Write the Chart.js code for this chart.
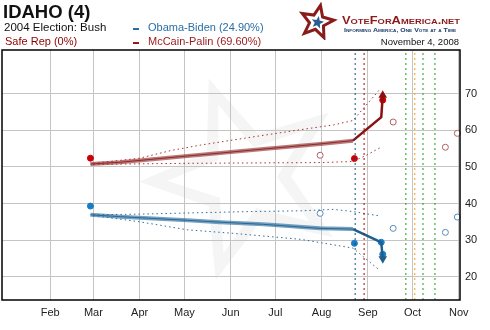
<!DOCTYPE html>
<html>
<head>
<meta charset="utf-8">
<script src="https://cdn.jsdelivr.net/npm/chart.js@4"></script>
<style>
  body { margin: 0; background: #fff; }
  #wrap { position: relative; width: 490px; height: 330px; font-family: "Liberation Sans", Arial, sans-serif; }
  #c { position: absolute; left: 0; top: 0; }
  .t { position: absolute; white-space: nowrap; line-height: 1; }
  .fit { transform-origin: 0 0; }
</style>
</head>
<body>
<div id="wrap">
  <canvas id="c" width="490" height="330"></canvas>
  <div class="t" style="left:3px;top:3px;font-size:18.5px;font-weight:bold;color:#111">IDAHO (4)</div>
  <div class="t" style="left:4px;top:22px;font-size:11.5px;color:#111">2004 Election: Bush</div>
  <div class="t" style="left:5px;top:36px;font-size:11px;color:#8b0000">Safe Rep (0%)</div>
  <div style="position:absolute;left:133px;top:28px;width:6px;height:2px;background:#2a6ea6"></div>
  <div class="t" style="left:148px;top:22px;font-size:11px;color:#2a6ea6">Obama-Biden (24.90%)</div>
  <div style="position:absolute;left:133px;top:42px;width:6px;height:2px;background:#9a1a1a"></div>
  <div class="t" style="left:148px;top:36px;font-size:11px;color:#9a1a1a">McCain-Palin (69.60%)</div>
  <svg id="logo" style="position:absolute;left:298px;top:2px" width="40" height="38"></svg>
  <div class="t fit" id="brand" data-w="118" style="left:342px;top:15px;font-size:11px;font-weight:bold;font-variant:small-caps;color:#8b1a1a">VoteForAmerica.net</div>
  <div class="t fit" id="motto" data-w="112" style="left:344px;top:27px;font-size:6px;font-weight:bold;font-variant:small-caps;color:#1d3b6e">Informing America, One Vote at a Time</div>
  <div class="t" id="date" style="right:31px;top:37px;font-size:9.5px;color:#111">November 4, 2008</div>
</div>
<script>
// days counted from Jan 1 2008 (= 0)
const monthStarts = [31, 60, 91, 121, 152, 182, 213, 244, 274, 305];
const monthLabels = ['Feb', 'Mar', 'Apr', 'May', 'Jun', 'Jul', 'Aug', 'Sep', 'Oct', 'Nov'];
const yTicks = [20, 30, 40, 50, 60, 70];

// smoothed trend
const trendDays = [58, 78, 123, 145, 174, 212, 234];
const mccainTrend = [50.8, 51.3, 53.0, 53.8, 54.9, 56.3, 57.2];
const obamaTrend = [36.9, 36.4, 35.4, 34.9, 34.3, 33.2, 33.0];

// latest movement (ends in arrow)
const recentDays = [234, 253, 254];
const mccainRecent = [57.2, 63.6, 69.6];
const obamaRecent = [33.0, 29.4, 24.9];

// dotted ranges
const mccainHighDays = [60, 91, 112, 132, 165, 199, 221, 234, 252];
const mccainHigh = [51.0, 52.4, 54.5, 56.0, 58.1, 60.2, 61.5, 62.7, 71.2];
const mccainLowDays = [60, 123, 212, 234, 243, 252];
const mccainLow = [50.7, 51.0, 51.2, 51.5, 53.2, 55.2];
const obamaHighDays = [60, 91, 165, 199, 221, 234, 252];
const obamaHigh = [36.9, 37.1, 37.8, 38.0, 38.4, 37.8, 36.6];
const obamaLowDays = [60, 91, 123, 152, 199, 234, 252];
const obamaLow = [36.7, 35.0, 32.8, 31.9, 30.2, 27.8, 21.7];

// polls
const mccainPollDays = [58, 235, 254];
const mccainPolls = [52.4, 52.3, 68.3];
const obamaPollDays = [58, 235, 253, 254];
const obamaPolls = [39.3, 29.1, 29.4, 26.1];
const otherDays = [212, 261, 296, 304];
const mccainOther = [53.2, 62.3, 55.4, 59.2];
const obamaOther = [37.3, 33.2, 32.1, 36.3];

// events: VP picks, debates
const eventDays = [235.5, 241.5, 269.5, 275.5, 281, 289];
const eventColors = ['#1a4a7a', '#b00000', '#1a9a1a', '#f0a000', '#1a9a1a', '#1a9a1a'];

const Y_MIN = 13.6, Y_MAX = 82;

const pts = (xs, ys) => xs.map((x, i) => ({ x: x, y: ys[i] }));

const lineDs = (data, color, width, dash) => ({
  type: 'line', data: data, borderColor: color, borderWidth: width,
  borderDash: dash || [], pointRadius: 0, fill: false, tension: 0
});

const datasets = [];
eventDays.forEach((d, i) => {
  datasets.push(lineDs([{ x: d, y: Y_MIN }, { x: d, y: Y_MAX }], eventColors[i], 1, [2, 3]));
});
datasets.push(lineDs(pts(mccainHighDays, mccainHigh), '#a83232', 1, [1.5, 3]));
datasets.push(lineDs(pts(mccainLowDays, mccainLow), '#a83232', 1, [1.5, 3]));
datasets.push(lineDs(pts(obamaHighDays, obamaHigh), '#2f6d9e', 1, [1.5, 3]));
datasets.push(lineDs(pts(obamaLowDays, obamaLow), '#2f6d9e', 1, [1.5, 3]));
datasets.push(lineDs(pts(trendDays, mccainTrend), 'rgba(150,50,50,0.65)', 4));
datasets.push(lineDs(pts(trendDays, mccainTrend), '#7f1818', 1));
datasets.push(lineDs(pts(trendDays, obamaTrend), 'rgba(45,110,160,0.65)', 4));
datasets.push(lineDs(pts(trendDays, obamaTrend), '#1d5a88', 1));

const arrowDs = (xs, ys, color, rot) => {
  const ds = lineDs(pts(xs, ys), color, 2.5);
  ds.pointRadius = xs.map((x, i) => i === xs.length - 1 ? 2.5 : 0);
  ds.pointStyle = 'triangle';
  ds.pointRotation = rot;
  ds.pointBackgroundColor = color;
  ds.pointBorderColor = color;
  return ds;
};
datasets.push(arrowDs(recentDays, mccainRecent, '#8b1010', 0));
datasets.push(arrowDs(recentDays, obamaRecent, '#1f5f8f', 180));

const dotDs = (xs, ys, color, open) => ({
  type: 'scatter', data: pts(xs, ys), clip: false,
  pointRadius: 3,
  pointBorderWidth: 1,
  pointBackgroundColor: open ? '#fff' : color,
  pointBorderColor: color
});
datasets.push(dotDs(mccainPollDays, mccainPolls, '#cc0000', false));
datasets.push(dotDs(obamaPollDays, obamaPolls, '#1a7cc4', false));
datasets.push(dotDs(otherDays, mccainOther, '#b06060', true));
datasets.push(dotDs(otherDays, obamaOther, '#5a8ab8', true));

const starPoints = (cx, cy, R, r, rotDeg) => {
  const out = [];
  for (let i = 0; i < 10; i++) {
    const a = (rotDeg + i * 36) * Math.PI / 180;
    const rad = i % 2 === 0 ? R : r;
    out.push([cx + rad * Math.sin(a), cy - rad * Math.cos(a)]);
  }
  return out;
};

// faint background star
const watermark = {
  id: 'watermark',
  beforeDraw(chart) {
    const ctx = chart.ctx;
    const draw = (p, color) => {
      ctx.beginPath();
      p.forEach((q, i) => i ? ctx.lineTo(q[0], q[1]) : ctx.moveTo(q[0], q[1]));
      ctx.closePath();
      ctx.fillStyle = color;
      ctx.fill();
    };
    ctx.save();
    draw(starPoints(245, 178, 106, 46, -20), '#f5f5f5');
    draw(starPoints(245, 178, 78, 32, -20), '#ffffff');
    ctx.restore();
  }
};

const frame = {
  id: 'frame',
  afterDraw(chart) {
    const a = chart.chartArea, ctx = chart.ctx;
    ctx.save();
    ctx.strokeStyle = '#000';
    ctx.lineWidth = 1.5;
    ctx.strokeRect(a.left, a.top, a.right - a.left, a.bottom - a.top);
    ctx.restore();
  }
};

new Chart(document.getElementById('c'), {
  type: 'scatter',
  data: { datasets: datasets },
  plugins: [watermark, frame],
  options: {
    responsive: false,
    animation: false,
    layout: { autoPadding: false, padding: { left: 2, top: 50, right: 0, bottom: 0 } },
    plugins: { legend: { display: false }, tooltip: { enabled: false } },
    scales: {
      x: {
        type: 'linear', min: -1.3, max: 305.8,
        border: { display: false },
        grid: { color: '#c4c4c4', lineWidth: 1, drawTicks: false },
        afterBuildTicks: (s) => { s.ticks = monthStarts.map(v => ({ value: v })); },
        afterFit: (s) => { s.height = 30; s.paddingLeft = 0; s.paddingRight = 0; },
        ticks: {
          padding: 6, color: '#222', maxRotation: 0, autoSkip: false,
          font: { family: '"Liberation Sans", Arial, sans-serif', size: 11 },
          callback: (v) => monthLabels[monthStarts.indexOf(v)]
        }
      },
      y: {
        type: 'linear', position: 'right', min: Y_MIN, max: Y_MAX,
        border: { display: false },
        grid: { color: '#c4c4c4', lineWidth: 1, drawTicks: false },
        afterBuildTicks: (s) => { s.ticks = yTicks.map(v => ({ value: v })); },
        afterFit: (s) => { s.width = 30; s.paddingTop = 0; s.paddingBottom = 0; },
        ticks: {
          padding: 5, color: '#222',
          font: { family: '"Liberation Sans", Arial, sans-serif', size: 11 }
        }
      }
    }
  }
});

// logo star
const svg = document.getElementById('logo');
const toAttr = (p) => p.map(q => q[0].toFixed(1) + ',' + q[1].toFixed(1)).join(' ');
svg.innerHTML =
  '<polygon points="' + toAttr(starPoints(19, 20, 17, 7.5, 12)) + '" fill="none" stroke="#8b1a1a" stroke-width="3" stroke-linejoin="miter"/>' +
  '<polygon points="' + toAttr(starPoints(19.5, 20.5, 6.5, 2.8, 12)) + '" fill="#2a5d8f"/>';

// squeeze the brand lines to their width
document.querySelectorAll('.fit').forEach((el) => {
  const w = el.getBoundingClientRect().width;
  el.style.transform = 'scaleX(' + (parseFloat(el.dataset.w) / w) + ')';
});
</script>
</body>
</html>
